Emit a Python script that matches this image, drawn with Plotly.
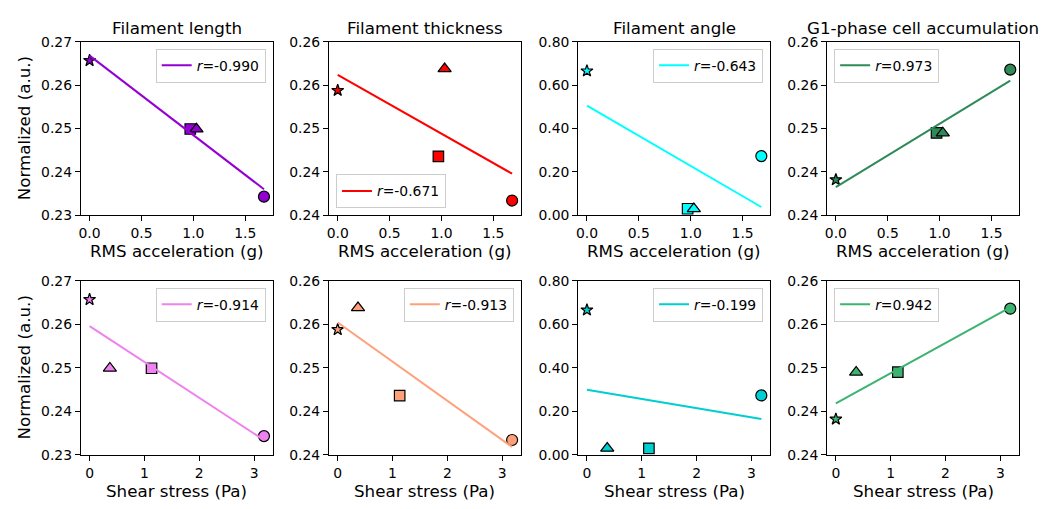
import numpy as np
import plotly.graph_objects as go

# ---------------- data ----------------
titles = ["Filament length", "Filament thickness", "Filament angle", "G1-phase cell accumulation"]
# order of conditions: star, square, triangle, circle
symbols = ["star", "square", "triangle-up", "circle"]
rms_accel = [0.0, 0.97, 1.03, 1.68]
shear_stress = [0.0, 1.13, 0.37, 3.18]
filament_length = [0.2657, 0.2499, 0.2499, 0.2343]
filament_thickness = [0.2544, 0.2468, 0.2569, 0.2417]
filament_angle = [0.666, 0.030, 0.030, 0.273]
g1_accumulation = [0.2441, 0.2495, 0.2495, 0.2568]
r_rms = ["-0.990", "-0.671", "-0.643", "0.973"]
r_shear = ["-0.914", "-0.913", "-0.199", "0.942"]
colors_rms = ["#9400D3", "#FF0000", "#00FFFF", "#2E8B57"]
colors_shear = ["#EE82EE", "#FFA07A", "#00CED1", "#3CB371"]
y_tickvals = [[0.23, 0.24, 0.25, 0.26, 0.27],
              [0.24, 0.245, 0.25, 0.255, 0.26],
              [0.0, 0.2, 0.4, 0.6, 0.8],
              [0.24, 0.245, 0.25, 0.255, 0.26]]
y_ticktext = [["0.23", "0.24", "0.25", "0.26", "0.27"],
              ["0.24", "0.24", "0.25", "0.26", "0.26"],
              ["0.00", "0.20", "0.40", "0.60", "0.80"],
              ["0.24", "0.24", "0.25", "0.26", "0.26"]]
y_ranges = [[0.23, 0.27], [0.24, 0.26], [0.0, 0.8], [0.24, 0.26]]
rms_tickvals = [0.0, 0.5, 1.0, 1.5]
rms_ticktext = ["0.0", "0.5", "1.0", "1.5"]
shear_tickvals = [0, 1, 2, 3]
shear_ticktext = ["0", "1", "2", "3"]
x_titles = ["RMS acceleration (g)", "Shear stress (Pa)"]
y_title = "Normalized (a.u.)"
legend_pos_rms = ["ur", "ll", "ur", "ul"]
legend_pos_shear = ["ur", "ur", "ur", "ul"]

series = [filament_length, filament_thickness, filament_angle, g1_accumulation]

# ---------------- geometry (pixels) ----------------
W, H = 1059, 509
col_left = [79.0, 327.6, 577.3, 826.7]
panel_w = 192.2
row_top = [35.0, 281.7]
row_bot = [214.0, 461.3]
FONT = "DejaVu Sans"
marker_sizes = {"star": 9, "square": 10.5, "triangle-up": 11.5, "circle": 11}


def px(x):
    return x / W


def py(y):
    return 1 - y / H


fig = go.Figure()
layout = dict(width=W, height=H, margin=dict(l=0, r=0, t=0, b=0),
              paper_bgcolor="white", plot_bgcolor="white",
              font=dict(family=FONT, size=13.9, color="black"),
              showlegend=True)
annotations = []

for row, (xdata, rlabels, cols, lpos, tv, tt) in enumerate([
        (rms_accel, r_rms, colors_rms, legend_pos_rms, rms_tickvals, rms_ticktext),
        (shear_stress, r_shear, colors_shear, legend_pos_shear, shear_tickvals, shear_ticktext)]):
    xmin, xmax = min(xdata), max(xdata)
    span = xmax - xmin
    xr = [xmin - 0.05 * span, xmax + 0.05 * span]
    for c in range(4):
        idx = row * 4 + c + 1
        xa = "x" if idx == 1 else f"x{idx}"
        ya = "y" if idx == 1 else f"y{idx}"
        lg = "legend" if idx == 1 else f"legend{idx}"
        ydata = series[c]
        color = cols[c]
        # markers
        for i in range(4):
            sym = symbols[i]
            fig.add_trace(go.Scatter(
                x=[xdata[i]], y=[ydata[i]], mode="markers",
                marker=dict(symbol=sym, size=marker_sizes[sym], color=color,
                            line=dict(color="black", width=1.2)),
                xaxis=xa, yaxis=ya, showlegend=False, hoverinfo="skip"))
        # regression line
        k, b = np.polyfit(np.array(xdata), np.array(ydata), 1)
        lx = np.array([xmin, xmax])
        fig.add_trace(go.Scatter(
            x=lx, y=k * lx + b, mode="lines",
            line=dict(color=color, width=2),
            name=f"<i>r</i>={rlabels[c]}",
            xaxis=xa, yaxis=ya, legend=lg, showlegend=True, hoverinfo="skip"))

        L = col_left[c]
        R = L + panel_w
        T = row_top[row]
        B = row_bot[row]
        axis_common = dict(showline=True, linecolor="black", linewidth=1.1, mirror=True,
                           ticks="outside", ticklen=5, tickwidth=1.1, tickcolor="black",
                           showgrid=False, zeroline=False,
                           tickfont=dict(family=FONT, size=13.9, color="black"))
        layout["xaxis" if idx == 1 else f"xaxis{idx}"] = dict(
            domain=[px(L), px(R)], anchor=ya, range=xr,
            tickvals=tv, ticktext=tt, **axis_common)
        layout["yaxis" if idx == 1 else f"yaxis{idx}"] = dict(
            domain=[py(B), py(T)], anchor=xa, range=y_ranges[c],
            tickvals=y_tickvals[c], ticktext=y_ticktext[c], **axis_common)

        pos = lpos[c]
        pad = 7
        if pos == "ur":
            lx_, ly_, xan, yan = R - pad, T + pad, "right", "top"
        elif pos == "ul":
            lx_, ly_, xan, yan = L + pad, T + pad, "left", "top"
        else:
            lx_, ly_, xan, yan = L + pad, B - pad, "left", "bottom"
        layout[lg] = dict(x=px(lx_), y=py(ly_), xanchor=xan, yanchor=yan,
                          xref="paper", yref="paper",
                          bgcolor="rgba(255,255,255,0.8)", bordercolor="#cccccc",
                          borderwidth=1, font=dict(family=FONT, size=13.9, color="black"),
                          itemwidth=30, tracegroupgap=0)

        # x-axis title
        annotations.append(dict(text=x_titles[row], x=px((L + R) / 2),
                                y=py(B + 37), xref="paper", yref="paper",
                                xanchor="center", yanchor="middle", showarrow=False,
                                font=dict(family=FONT, size=16.7, color="black")))
        if row == 0:
            annotations.append(dict(text=titles[c], x=px((L + R) / 2), y=py(21),
                                    xref="paper", yref="paper", xanchor="center",
                                    yanchor="middle", showarrow=False,
                                    font=dict(family=FONT, size=16.7, color="black")))
        if c == 0:
            annotations.append(dict(text=y_title, x=px(21.7), y=py((T + B) / 2),
                                    xref="paper", yref="paper", xanchor="center",
                                    yanchor="middle", showarrow=False, textangle=-90,
                                    font=dict(family=FONT, size=16.7, color="black")))

layout["annotations"] = annotations
fig.update_layout(**layout)
fig.write_html("out.html", config={"displayModeBar": False},
               post_script="document.body.style.margin='0';document.body.style.overflow='hidden';")
